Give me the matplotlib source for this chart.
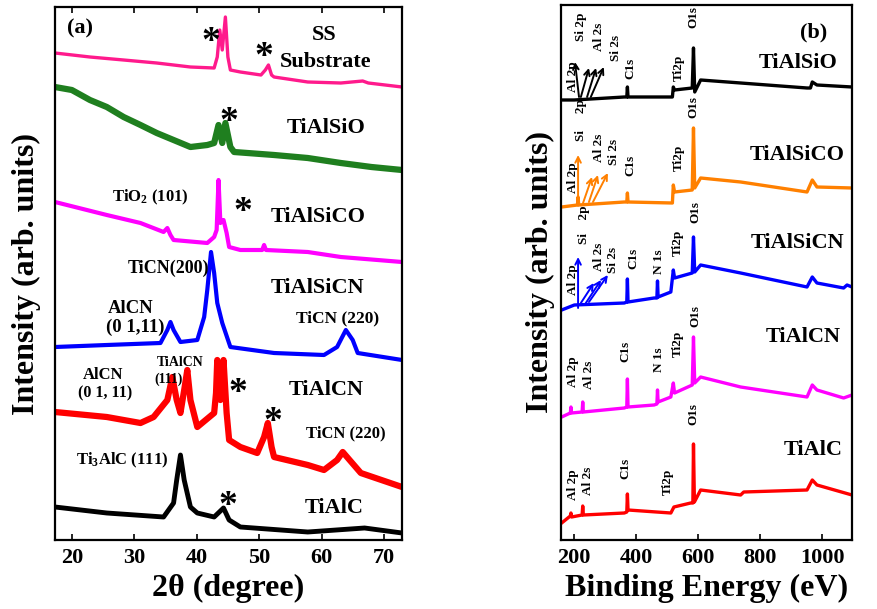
import matplotlib
matplotlib.use("Agg")
import matplotlib.pyplot as plt

plt.rcParams["font.family"] = ["Liberation Serif", "DejaVu Serif"]
plt.rcParams["font.weight"] = "bold"
plt.rcParams["mathtext.fontset"] = "custom"
plt.rcParams["mathtext.rm"] = "Liberation Serif:bold"
plt.rcParams["mathtext.bf"] = "Liberation Serif:bold"
plt.rcParams["mathtext.it"] = "Liberation Serif:bold:italic"

# ---------------- (a) XRD patterns: 2theta (deg) vs intensity (arb., offset) ----------------
ss_x = [17.3, 22.9, 28.3, 33.6, 39.0, 42.8, 43.3, 43.7, 44.1, 44.6, 45.0, 45.4, 47.0, 50.3,
        51.0, 51.5, 52.0, 52.4, 57.8, 63.1, 66.6, 67.5, 72.9]
ss_y = [487, 483, 480, 477, 473, 472, 483, 510, 490, 523, 483, 470, 468, 465,
        470, 475, 465, 463, 458, 457, 459, 457, 453]

sio_x = [17.3, 20.0, 22.9, 25.6, 28.3, 31.0, 33.6, 36.3, 39.0, 41.7, 42.8, 43.5, 44.1, 44.6,
         45.4, 46.0, 52.4, 57.8, 63.1, 68.0, 72.9]
sio_y = [453, 450, 440, 433, 423, 415, 407, 400, 393, 395, 397, 415, 397, 417,
         393, 388, 385, 382, 377, 373, 370]

sico_x = [17.3, 25.6, 31.0, 34.7, 35.3, 35.8, 36.3, 41.7, 42.8, 43.2, 43.5, 43.8, 44.3, 44.8,
          45.2, 47.0, 50.5, 50.8, 51.1, 57.8, 63.1, 72.9]
sico_y = [338, 325, 317, 308, 312, 305, 300, 297, 303, 310, 360, 317, 320, 307,
          293, 290, 290, 295, 290, 288, 283, 278]

sicn_x = [17.3, 25.6, 34.2, 35.3, 35.8, 36.3, 37.4, 40.1, 41.2, 41.7, 42.3, 42.8, 43.3, 44.1,
          45.4, 52.4, 60.4, 62.5, 63.9, 65.0, 65.8, 72.9]
sicn_y = [193, 195, 197, 210, 218, 210, 198, 200, 223, 250, 288, 267, 237, 217,
          193, 187, 185, 193, 210, 200, 187, 180]

alcn_x = [17.3, 25.6, 31.0, 33.1, 35.3, 36.1, 36.8, 37.4, 38.0, 38.5, 39.0, 40.1, 42.8, 43.1,
          43.3, 43.8, 44.3, 44.8, 45.2, 47.0, 49.7, 50.8, 51.4, 52.0, 52.4, 57.8, 60.4, 62.5,
          63.4, 64.5, 66.3, 72.9]
alcn_y = [128, 123, 117, 123, 140, 163, 140, 127, 150, 170, 140, 113, 127, 147,
          180, 140, 180, 127, 100, 93, 87, 103, 117, 93, 83, 75, 70, 80,
          88, 80, 67, 53]

alc_x = [17.3, 25.6, 34.7, 36.3, 36.8, 37.4, 38.0, 39.0, 40.1, 42.8, 44.3, 45.2, 47.0, 57.8,
         66.9, 72.9]
alc_y = [33, 27, 23, 37, 60, 85, 60, 33, 27, 23, 32, 20, 13, 8, 12, 7]

xrd_ticks = [20, 30, 40, 50, 60, 70]

# ---------------- (b) XPS survey: binding energy (eV) vs intensity (arb., offset) ----------------
xps_sio_x = [160, 200, 362, 370, 372, 374, 517, 520, 524, 581, 585, 589, 608, 737, 951, 962,
             968, 983, 1096]
xps_sio_y = [440, 440, 443, 443, 453, 443, 443, 453, 450, 452, 492, 448, 460, 457, 452, 452,
             458, 455, 453]

xps_sico_x = [160, 211, 213, 215, 362, 370, 372, 374, 517, 520, 524, 581, 585, 589, 608, 737,
              951, 968, 983, 1096]
xps_sico_y = [333, 335, 343, 335, 338, 338, 347, 338, 337, 355, 348, 350, 412, 352, 362, 358,
              348, 360, 353, 352]

xps_sicn_x = [160, 201, 362, 370, 372, 374, 458, 467, 469, 471, 512, 520, 524, 581, 585, 589,
              608, 737, 951, 968, 983, 1069, 1080, 1096]
xps_sicn_y = [230, 235, 237, 238, 261, 238, 242, 242, 259, 243, 248, 270, 262, 267, 303, 268,
              275, 267, 253, 263, 257, 252, 255, 253]

xps_alcn_x = [160, 188, 190, 192, 226, 228, 230, 362, 370, 372, 374, 458, 467, 469, 471, 512,
              520, 524, 581, 585, 589, 608, 737, 951, 968, 983, 1069, 1096]
xps_alcn_y = [123, 127, 133, 127, 128, 138, 128, 132, 133, 161, 133, 135, 136, 150, 138, 143,
              157, 147, 155, 203, 157, 163, 153, 143, 155, 150, 142, 145]

xps_alc_x = [160, 188, 190, 192, 226, 228, 230, 362, 370, 372, 374, 512, 522, 576, 583, 585,
             588, 608, 737, 747, 951, 968, 983, 1096]
xps_alc_y = [17, 24, 27, 23, 25, 34, 25, 27, 28, 46, 30, 27, 33, 37, 37, 96,
             38, 50, 45, 48, 50, 60, 55, 45]

xps_ticks = [200, 400, 600, 800, 1000]

fig = plt.figure(figsize=(8.77, 6.09), dpi=100)
ax_a = fig.add_axes([0.0627, 0.1133, 0.3957, 0.8752])
ax_b = fig.add_axes([0.6397, 0.1133, 0.3318, 0.8785])

# ---- panel (a)
ax_a.plot(ss_x, ss_y, color="#FF1A8C", lw=2.4)
ax_a.plot(sio_x, sio_y, color="#1F7F1F", lw=4.5)
ax_a.plot(sico_x, sico_y, color="#FF00FF", lw=3.0)
ax_a.plot(sicn_x, sicn_y, color="#0000FF", lw=3.0)
ax_a.plot(alcn_x, alcn_y, color="#FF0000", lw=4.5)
ax_a.plot(alc_x, alc_y, color="black", lw=3.5)
ax_a.set_xlim(17.3, 72.9)
ax_a.set_ylim(0, 533)
ax_a.set_xticks(xrd_ticks)
ax_a.set_yticks([])
ax_a.tick_params(axis="x", direction="in", length=4, width=1.2, labelsize=16, pad=6, top=True)
ax_a.set_xlabel("2θ (degree)", fontsize=23, fontweight="bold", labelpad=4)
ax_a.set_ylabel("Intensity (arb. units)", fontsize=23, fontweight="bold", labelpad=10)

a_labels = [
    ("(a)", 21.3, 512, 16),
    ("SS", 60.4, 505, 16),
    ("Substrate", 60.7, 478, 16),
    ("TiAlSiO", 60.7, 412, 16),
    ("TiO$_\\mathregular{2}$ (101)", 32.6, 343, 12),
    ("TiAlSiCO", 59.4, 323, 16),
    ("TiCN(200)", 35.5, 272, 13),
    ("TiAlSiCN", 59.4, 252, 16),
    ("AlCN", 29.4, 232, 13.5),
    ("(0 1,11)", 30.2, 213, 13.5),
    ("TiCN (220)", 62.6, 222, 12.5),
    ("TiAlCN", 37.4, 178, 10),
    ("(111)", 35.5, 161, 10),
    ("AlCN", 25.0, 165, 12),
    ("(0 1, 11)", 25.3, 147, 11.5),
    ("TiAlCN", 60.7, 150, 16),
    ("TiCN (220)", 63.9, 107, 12),
    ("Ti$_\\mathregular{3}$AlC (111)", 28.1, 80, 12),
    ("TiAlC", 62.0, 32, 16),
]
for text, x, y, size in a_labels:
    ax_a.text(x, y, text, fontsize=size, fontweight="bold", ha="center", va="center")

a_stars = [(42.2, 507), (50.7, 492), (45.1, 427), (47.4, 337), (46.6, 156), (52.2, 127), (45.0, 43)]
for x, y in a_stars:
    ax_a.text(x, y - 19, "*", fontsize=27, fontweight="bold", ha="center", va="baseline")

# ---- panel (b)
ax_b.plot(xps_sio_x, xps_sio_y, color="black", lw=2.4)
ax_b.plot(xps_sico_x, xps_sico_y, color="#FF8000", lw=2.4)
ax_b.plot(xps_sicn_x, xps_sicn_y, color="#0000FF", lw=2.4)
ax_b.plot(xps_alcn_x, xps_alcn_y, color="#FF00FF", lw=2.4)
ax_b.plot(xps_alc_x, xps_alc_y, color="#FF0000", lw=2.4)
ax_b.set_xlim(158, 1096)
ax_b.set_ylim(0, 535)
ax_b.set_xticks(xps_ticks)
ax_b.set_yticks([])
ax_b.tick_params(axis="x", direction="in", length=4, width=1.2, labelsize=16, pad=6)
ax_b.set_xlabel("Binding Energy (eV)", fontsize=23, fontweight="bold", labelpad=4)
ax_b.set_ylabel("Intensity (arb. units)", fontsize=23, fontweight="bold", labelpad=4)

b_names = [("(b)", 971, 508), ("TiAlSiO", 923, 477), ("TiAlSiCO", 920, 385),
           ("TiAlSiCN", 920, 297), ("TiAlCN", 939, 203), ("TiAlC", 971, 90)]
for text, x, y in b_names:
    ax_b.text(x, y, text, fontsize=16, fontweight="bold", ha="center", va="center")

b_peaks = [
    ("Al 2p", 197, 463), ("Si 2p", 222, 513), ("Al 2s", 280, 503), ("Si 2s", 335, 492),
    ("C1s", 383, 472), ("Ti2p", 537, 472), ("O1s", 586, 523),
    ("Al 2p", 197, 362), ("Si     2p", 222, 420), ("Al 2s", 280, 392), ("Si 2s", 328, 388),
    ("C1s", 383, 375), ("Ti2p", 537, 382), ("O1s", 586, 433),
    ("Al 2p", 197, 260), ("Si    2p", 232, 315), ("Al 2s", 280, 283), ("Si 2s", 325, 280),
    ("C1s", 390, 282), ("N 1s", 473, 278), ("Ti2p", 534, 297), ("O1s", 592, 328),
    ("Al 2p", 197, 168), ("Al 2s", 248, 165), ("C1s", 367, 189), ("N 1s", 473, 180),
    ("Ti2p", 534, 196), ("O1s", 592, 224),
    ("Al 2p", 197, 55), ("Al 2s", 245, 59), ("C1s", 367, 72), ("Ti2p", 502, 58),
    ("O1s", 586, 126),
]
for text, x, y in b_peaks:
    ax_b.text(x, y, text, fontsize=9.5, fontweight="bold", rotation=90, ha="center", va="center")

b_arrows = [
    ((216, 443), (203, 478), "black"), ((222, 443), (248, 472), "black"),
    ((242, 443), (271, 472), "black"), ((254, 443), (296, 473), "black"),
    ((213, 337), (213, 385), "#FF8000"), ((229, 337), (258, 363), "#FF8000"),
    ((248, 338), (277, 365), "#FF8000"), ((261, 338), (309, 367), "#FF8000"),
    ((213, 232), (213, 283), "#0000FF"), ((222, 237), (264, 257), "#0000FF"),
    ((238, 237), (287, 260), "#0000FF"), ((248, 238), (309, 265), "#0000FF"),
]
for tail, head, col in b_arrows:
    ax_b.annotate("", xy=head, xytext=tail,
                  arrowprops=dict(arrowstyle="->", color=col, lw=1.4, shrinkA=0, shrinkB=0))

for ax in (ax_a, ax_b):
    for side in ax.spines.values():
        side.set_linewidth(1.6)
    for lab in ax.get_xticklabels():
        lab.set_fontweight("bold")

fig.savefig("out.png", dpi=100)
